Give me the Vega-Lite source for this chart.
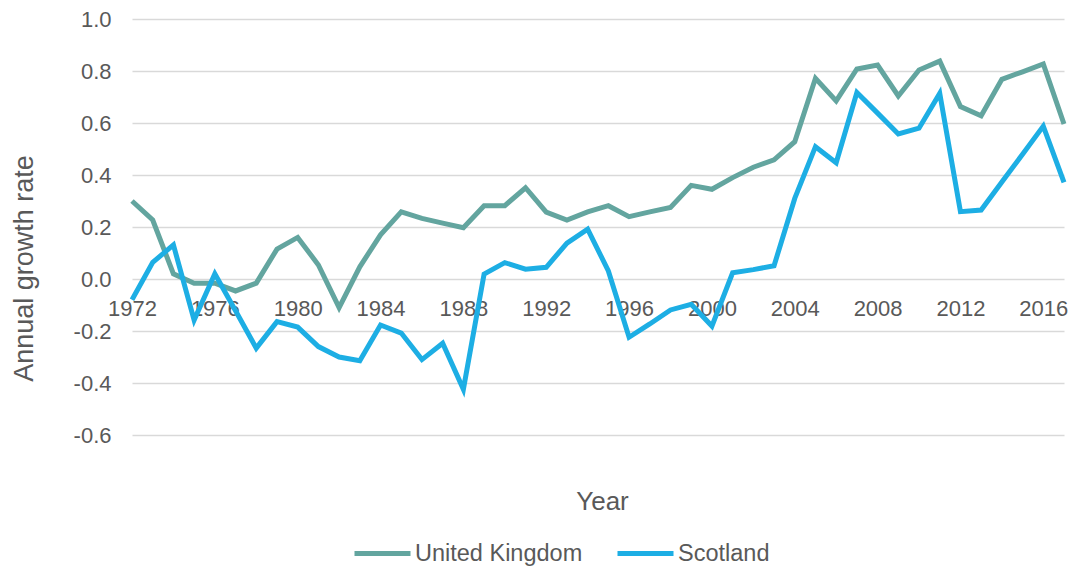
{
  "$schema": "https://vega.github.io/schema/vega-lite/v6.json",
  "width": 932,
  "height": 416,
  "autosize": "none",
  "padding": {"left": 132, "top": 19, "right": 12, "bottom": 135},
  "background": "white",
  "config": {
    "view": {"stroke": null},
    "font": "Liberation Sans"
  },
  "data": {
    "values": [
      {"year": 1972, "series": "United Kingdom", "value": 0.30},
      {"year": 1973, "series": "United Kingdom", "value": 0.227},
      {"year": 1974, "series": "United Kingdom", "value": 0.02},
      {"year": 1975, "series": "United Kingdom", "value": -0.016},
      {"year": 1976, "series": "United Kingdom", "value": -0.016},
      {"year": 1977, "series": "United Kingdom", "value": -0.046},
      {"year": 1978, "series": "United Kingdom", "value": -0.016},
      {"year": 1979, "series": "United Kingdom", "value": 0.115},
      {"year": 1980, "series": "United Kingdom", "value": 0.16},
      {"year": 1981, "series": "United Kingdom", "value": 0.054},
      {"year": 1982, "series": "United Kingdom", "value": -0.11},
      {"year": 1983, "series": "United Kingdom", "value": 0.047},
      {"year": 1984, "series": "United Kingdom", "value": 0.17},
      {"year": 1985, "series": "United Kingdom", "value": 0.258},
      {"year": 1986, "series": "United Kingdom", "value": 0.233},
      {"year": 1987, "series": "United Kingdom", "value": 0.215},
      {"year": 1988, "series": "United Kingdom", "value": 0.197},
      {"year": 1989, "series": "United Kingdom", "value": 0.282},
      {"year": 1990, "series": "United Kingdom", "value": 0.282},
      {"year": 1991, "series": "United Kingdom", "value": 0.351},
      {"year": 1992, "series": "United Kingdom", "value": 0.257},
      {"year": 1993, "series": "United Kingdom", "value": 0.227},
      {"year": 1994, "series": "United Kingdom", "value": 0.258},
      {"year": 1995, "series": "United Kingdom", "value": 0.282},
      {"year": 1996, "series": "United Kingdom", "value": 0.24},
      {"year": 1997, "series": "United Kingdom", "value": 0.258},
      {"year": 1998, "series": "United Kingdom", "value": 0.275},
      {"year": 1999, "series": "United Kingdom", "value": 0.36},
      {"year": 2000, "series": "United Kingdom", "value": 0.345},
      {"year": 2001, "series": "United Kingdom", "value": 0.39},
      {"year": 2002, "series": "United Kingdom", "value": 0.43},
      {"year": 2003, "series": "United Kingdom", "value": 0.458},
      {"year": 2004, "series": "United Kingdom", "value": 0.528},
      {"year": 2005, "series": "United Kingdom", "value": 0.772},
      {"year": 2006, "series": "United Kingdom", "value": 0.685},
      {"year": 2007, "series": "United Kingdom", "value": 0.808},
      {"year": 2008, "series": "United Kingdom", "value": 0.823},
      {"year": 2009, "series": "United Kingdom", "value": 0.704},
      {"year": 2010, "series": "United Kingdom", "value": 0.804},
      {"year": 2011, "series": "United Kingdom", "value": 0.838},
      {"year": 2012, "series": "United Kingdom", "value": 0.663},
      {"year": 2013, "series": "United Kingdom", "value": 0.628},
      {"year": 2014, "series": "United Kingdom", "value": 0.768},
      {"year": 2015, "series": "United Kingdom", "value": 0.797},
      {"year": 2016, "series": "United Kingdom", "value": 0.827},
      {"year": 2017, "series": "United Kingdom", "value": 0.596},
      {"year": 1972, "series": "Scotland", "value": -0.08},
      {"year": 1973, "series": "Scotland", "value": 0.064},
      {"year": 1974, "series": "Scotland", "value": 0.131},
      {"year": 1975, "series": "Scotland", "value": -0.158},
      {"year": 1976, "series": "Scotland", "value": 0.02},
      {"year": 1977, "series": "Scotland", "value": -0.122},
      {"year": 1978, "series": "Scotland", "value": -0.266},
      {"year": 1979, "series": "Scotland", "value": -0.164},
      {"year": 1980, "series": "Scotland", "value": -0.185},
      {"year": 1981, "series": "Scotland", "value": -0.26},
      {"year": 1982, "series": "Scotland", "value": -0.30},
      {"year": 1983, "series": "Scotland", "value": -0.314},
      {"year": 1984, "series": "Scotland", "value": -0.177},
      {"year": 1985, "series": "Scotland", "value": -0.208},
      {"year": 1986, "series": "Scotland", "value": -0.31},
      {"year": 1987, "series": "Scotland", "value": -0.247},
      {"year": 1988, "series": "Scotland", "value": -0.424},
      {"year": 1989, "series": "Scotland", "value": 0.019},
      {"year": 1990, "series": "Scotland", "value": 0.063},
      {"year": 1991, "series": "Scotland", "value": 0.038},
      {"year": 1992, "series": "Scotland", "value": 0.045},
      {"year": 1993, "series": "Scotland", "value": 0.138},
      {"year": 1994, "series": "Scotland", "value": 0.192},
      {"year": 1995, "series": "Scotland", "value": 0.031},
      {"year": 1996, "series": "Scotland", "value": -0.224},
      {"year": 1997, "series": "Scotland", "value": -0.173},
      {"year": 1998, "series": "Scotland", "value": -0.119},
      {"year": 1999, "series": "Scotland", "value": -0.097},
      {"year": 2000, "series": "Scotland", "value": -0.181},
      {"year": 2001, "series": "Scotland", "value": 0.024},
      {"year": 2002, "series": "Scotland", "value": 0.036},
      {"year": 2003, "series": "Scotland", "value": 0.051},
      {"year": 2004, "series": "Scotland", "value": 0.31},
      {"year": 2005, "series": "Scotland", "value": 0.509},
      {"year": 2006, "series": "Scotland", "value": 0.447},
      {"year": 2007, "series": "Scotland", "value": 0.717},
      {"year": 2008, "series": "Scotland", "value": 0.638},
      {"year": 2009, "series": "Scotland", "value": 0.558},
      {"year": 2010, "series": "Scotland", "value": 0.58},
      {"year": 2011, "series": "Scotland", "value": 0.714},
      {"year": 2012, "series": "Scotland", "value": 0.259},
      {"year": 2013, "series": "Scotland", "value": 0.265},
      {"year": 2014, "series": "Scotland", "value": 0.373},
      {"year": 2015, "series": "Scotland", "value": 0.48},
      {"year": 2016, "series": "Scotland", "value": 0.588},
      {"year": 2017, "series": "Scotland", "value": 0.372}
    ]
  },
  "mark": {"type": "line", "strokeWidth": 5, "strokeJoin": "miter"},
  "encoding": {
    "x": {
      "field": "year",
      "type": "quantitative",
      "scale": {"domain": [1972, 2017], "nice": false, "zero": false},
      "axis": {
        "title": "Year",
        "values": [1972, 1976, 1980, 1984, 1988, 1992, 1996, 2000, 2004, 2008, 2012, 2016],
        "format": "d",
        "grid": false,
        "domain": false,
        "ticks": false,
        "tickSize": 0,
        "offset": -156,
        "labelFontSize": 22,
        "labelColor": "#595959",
        "labelBaseline": "alphabetic",
        "labelPadding": 36,
        "labelFlush": false,
        "labelOverlap": false,
        "titleFontSize": 26,
        "titleFontWeight": "normal",
        "titleColor": "#595959",
        "titleBaseline": "alphabetic",
        "titleX": 470,
        "titleY": 230,
        "zindex": 0
      }
    },
    "y": {
      "field": "value",
      "type": "quantitative",
      "scale": {"domain": [-0.6, 1.0], "nice": false, "zero": false},
      "axis": {
        "title": "Annual growth rate",
        "values": [-0.6, -0.4, -0.2, 0, 0.2, 0.4, 0.6, 0.8, 1.0],
        "labelExpr": "datum.value < -0.0001 ? '-' + format(-datum.value, '.1f') : format(datum.value, '.1f')",
        "grid": true,
        "gridColor": "#D9D9D9",
        "gridWidth": 1.5,
        "domain": false,
        "ticks": false,
        "tickSize": 0,
        "labelFontSize": 22,
        "labelColor": "#595959",
        "labelPadding": 21,
        "titleFontSize": 27,
        "titleFontWeight": "normal",
        "titleColor": "#595959",
        "titleAngle": 270,
        "titleBaseline": "alphabetic",
        "titleX": -100,
        "titleY": 249,
        "zindex": 0
      }
    },
    "color": {
      "field": "series",
      "type": "nominal",
      "scale": {"domain": ["United Kingdom", "Scotland"], "range": ["#63A59F", "#1DAEE4"]},
      "legend": {
        "title": null,
        "orient": "none",
        "direction": "horizontal",
        "legendX": 220,
        "legendY": 504,
        "symbolType": "stroke",
        "symbolSize": 3136,
        "symbolStrokeWidth": 5,
        "labelFontSize": 23.5,
        "labelColor": "#595959",
        "labelOffset": 2,
        "labelLimit": 400,
        "columnPadding": 24
      }
    }
  }
}
